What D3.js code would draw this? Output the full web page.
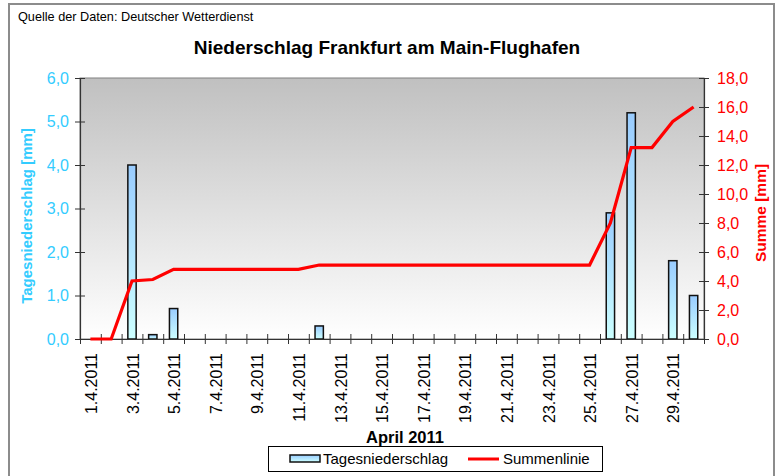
<!DOCTYPE html>
<html>
<head>
<meta charset="utf-8">
<script src="https://cdn.jsdelivr.net/npm/d3@7"></script>
<style>
  body { margin: 0; background: #fff; }
  text { font-family: Arial, "Liberation Sans", sans-serif; }
</style>
</head>
<body>
<svg id="chart" width="779" height="476"></svg>
<script>
// data
var days = ["1.4.2011", "2.4.2011", "3.4.2011", "4.4.2011", "5.4.2011", "6.4.2011",
    "7.4.2011", "8.4.2011", "9.4.2011", "10.4.2011", "11.4.2011", "12.4.2011",
    "13.4.2011", "14.4.2011", "15.4.2011", "16.4.2011", "17.4.2011", "18.4.2011",
    "19.4.2011", "20.4.2011", "21.4.2011", "22.4.2011", "23.4.2011", "24.4.2011",
    "25.4.2011", "26.4.2011", "27.4.2011", "28.4.2011", "29.4.2011", "30.4.2011"];

var rain = [0, 0, 4.0, 0.1, 0.7, 0, 0, 0, 0, 0, 0, 0.3, 0, 0, 0,
    0, 0, 0, 0, 0, 0, 0, 0, 0, 0, 2.9, 5.2, 0, 1.8, 1.0];

var summe = [0, 0, 4.0, 4.1, 4.8, 4.8, 4.8, 4.8, 4.8, 4.8, 4.8, 5.1, 5.1, 5.1, 5.1,
    5.1, 5.1, 5.1, 5.1, 5.1, 5.1, 5.1, 5.1, 5.1, 5.1, 8.0, 13.2, 13.2, 15.0, 16.0];

var leftTicks = [0, 1, 2, 3, 4, 5, 6];
var rightTicks = [0, 2, 4, 6, 8, 10, 12, 14, 16, 18];
var labelDays = ["1.4.2011", "3.4.2011", "5.4.2011", "7.4.2011", "9.4.2011", "11.4.2011",
    "13.4.2011", "15.4.2011", "17.4.2011", "19.4.2011", "21.4.2011", "23.4.2011",
    "25.4.2011", "27.4.2011", "29.4.2011"];

var cyan = "#33ccff", red = "#ff0000";

var svg = d3.select("#chart");

var plot = { left: 80, right: 704, top: 78, bottom: 339 };

var xScale = d3.scaleBand().domain(days).range([plot.left, plot.right]);
var xEdge = d3.scaleLinear().domain([0, days.length]).range([plot.left, plot.right]);
var yLeft = d3.scaleLinear().domain([0, 6]).range([plot.bottom, plot.top]);
var yRight = d3.scaleLinear().domain([0, 18]).range([plot.bottom, plot.top]);

var fmt = function (d) { return d.toFixed(1).replace(".", ","); };

// gradients
var defs = svg.append("defs");
var bg = defs.append("linearGradient").attr("id", "bg")
    .attr("x1", 0).attr("y1", 0).attr("x2", 0).attr("y2", 1);
bg.append("stop").attr("offset", "0%").attr("stop-color", "#c0c0c0");
bg.append("stop").attr("offset", "100%").attr("stop-color", "#ffffff");

var barGrad = defs.append("linearGradient").attr("id", "barGrad")
    .attr("x1", 0).attr("y1", 0).attr("x2", 0).attr("y2", 1);
barGrad.append("stop").attr("offset", "0%").attr("stop-color", "#99ccff");
barGrad.append("stop").attr("offset", "100%").attr("stop-color", "#ccffff");

// outer frame
svg.append("rect")
    .attr("x", 9).attr("y", 4).attr("width", 765).attr("height", 490)
    .attr("fill", "#fff").attr("stroke", "#8c8c8c").attr("stroke-width", 2);

svg.append("text")
    .attr("x", 18).attr("y", 21)
    .attr("font-size", 12.7).attr("fill", "#000")
    .text("Quelle der Daten: Deutscher Wetterdienst");

svg.append("text")
    .attr("x", 387).attr("y", 54)
    .attr("text-anchor", "middle")
    .attr("font-size", 19).attr("font-weight", "bold")
    .text("Niederschlag Frankfurt am Main-Flughafen");

// plot background
svg.append("rect")
    .attr("x", plot.left).attr("y", plot.top)
    .attr("width", plot.right - plot.left).attr("height", plot.bottom - plot.top)
    .attr("fill", "url(#bg)")
    .attr("stroke", "#808080").attr("stroke-width", 1);

// bars
var barW = xScale.bandwidth() * 0.4;
svg.append("g").selectAll("rect")
    .data(rain.map(function (v, i) { return { day: days[i], v: v }; })
        .filter(function (d) { return d.v > 0; }))
    .enter().append("rect")
    .attr("x", function (d) { return xScale(d.day) + (xScale.bandwidth() - barW) / 2; })
    .attr("y", function (d) { return yLeft(d.v); })
    .attr("width", barW)
    .attr("height", function (d) { return yLeft(0) - yLeft(d.v); })
    .attr("fill", "url(#barGrad)")
    .attr("stroke", "#111").attr("stroke-width", 1.5);

// axes
function styleAxis(g, color) {
    g.select(".domain").attr("stroke", "#333").attr("stroke-width", 1.2);
    g.selectAll(".tick line").attr("stroke", "#333");
    g.selectAll(".tick text").attr("fill", color).attr("font-size", 16)
        .attr("font-family", "Arial, 'Liberation Sans', sans-serif");
}

var gLeft = svg.append("g")
    .attr("transform", "translate(" + plot.left + ",0)")
    .call(d3.axisLeft(yLeft).tickValues(leftTicks).tickFormat(fmt)
        .tickSizeInner(5).tickSizeOuter(0).tickPadding(6));
styleAxis(gLeft, cyan);
gLeft.selectAll(".tick line").attr("x2", -5).attr("x1", 5);

var gRight = svg.append("g")
    .attr("transform", "translate(" + plot.right + ",0)")
    .call(d3.axisRight(yRight).tickValues(rightTicks).tickFormat(fmt)
        .tickSizeInner(5).tickSizeOuter(0).tickPadding(8));
styleAxis(gRight, red);
gRight.selectAll(".tick line").attr("x1", -5).attr("x2", 5);

var gBottom = svg.append("g")
    .attr("transform", "translate(0," + plot.bottom + ")")
    .call(d3.axisBottom(xEdge).tickValues(d3.range(days.length + 1))
        .tickFormat("").tickSizeInner(5).tickSizeOuter(0));
styleAxis(gBottom, "#000");
gBottom.selectAll(".tick line").attr("y1", -5).attr("y2", 5);

var gLabels = svg.append("g")
    .attr("transform", "translate(0," + plot.bottom + ")")
    .call(d3.axisBottom(xScale).tickValues(labelDays).tickSize(0));
gLabels.select(".domain").remove();
gLabels.selectAll(".tick text")
    .attr("font-size", 16).attr("fill", "#000")
    .attr("font-family", "Arial, 'Liberation Sans', sans-serif")
    .attr("text-anchor", "end")
    .attr("dy", "0.35em")
    .attr("transform", "translate(1,14) rotate(-90)")
    .attr("x", 0).attr("y", 0);

// summenlinie
var line = d3.line()
    .x(function (d, i) { return xScale(days[i]) + xScale.bandwidth() / 2; })
    .y(function (d) { return yRight(d); });

svg.append("path")
    .datum(summe)
    .attr("d", line)
    .attr("fill", "none")
    .attr("stroke", red).attr("stroke-width", 3.2)
    .attr("stroke-linejoin", "miter");

// axis titles
svg.append("text")
    .attr("transform", "translate(32,216) rotate(-90)")
    .attr("text-anchor", "middle")
    .attr("font-size", 15).attr("font-weight", "bold").attr("fill", cyan)
    .text("Tagesniederschlag [mm]");

svg.append("text")
    .attr("transform", "translate(766,213) rotate(-90)")
    .attr("text-anchor", "middle")
    .attr("font-size", 15.5).attr("font-weight", "bold").attr("fill", red)
    .text("Summe [mm]");

svg.append("text")
    .attr("x", 405).attr("y", 443)
    .attr("text-anchor", "middle")
    .attr("font-size", 16.5).attr("font-weight", "bold")
    .text("April 2011");

// legend
var legend = svg.append("g");
legend.append("rect")
    .attr("x", 268.5).attr("y", 446.5).attr("width", 334).attr("height", 25)
    .attr("fill", "#fff").attr("stroke", "#000");
legend.append("rect")
    .attr("x", 290).attr("y", 455).attr("width", 30).attr("height", 7)
    .attr("fill", "url(#barGrad)").attr("stroke", "#111").attr("stroke-width", 1.5);
legend.append("text")
    .attr("x", 323).attr("y", 464).attr("font-size", 15)
    .text("Tagesniederschlag");
legend.append("line")
    .attr("x1", 468).attr("x2", 499).attr("y1", 459).attr("y2", 459)
    .attr("stroke", red).attr("stroke-width", 3);
legend.append("text")
    .attr("x", 503).attr("y", 464).attr("font-size", 15)
    .text("Summenlinie");
</script>
</body>
</html>
